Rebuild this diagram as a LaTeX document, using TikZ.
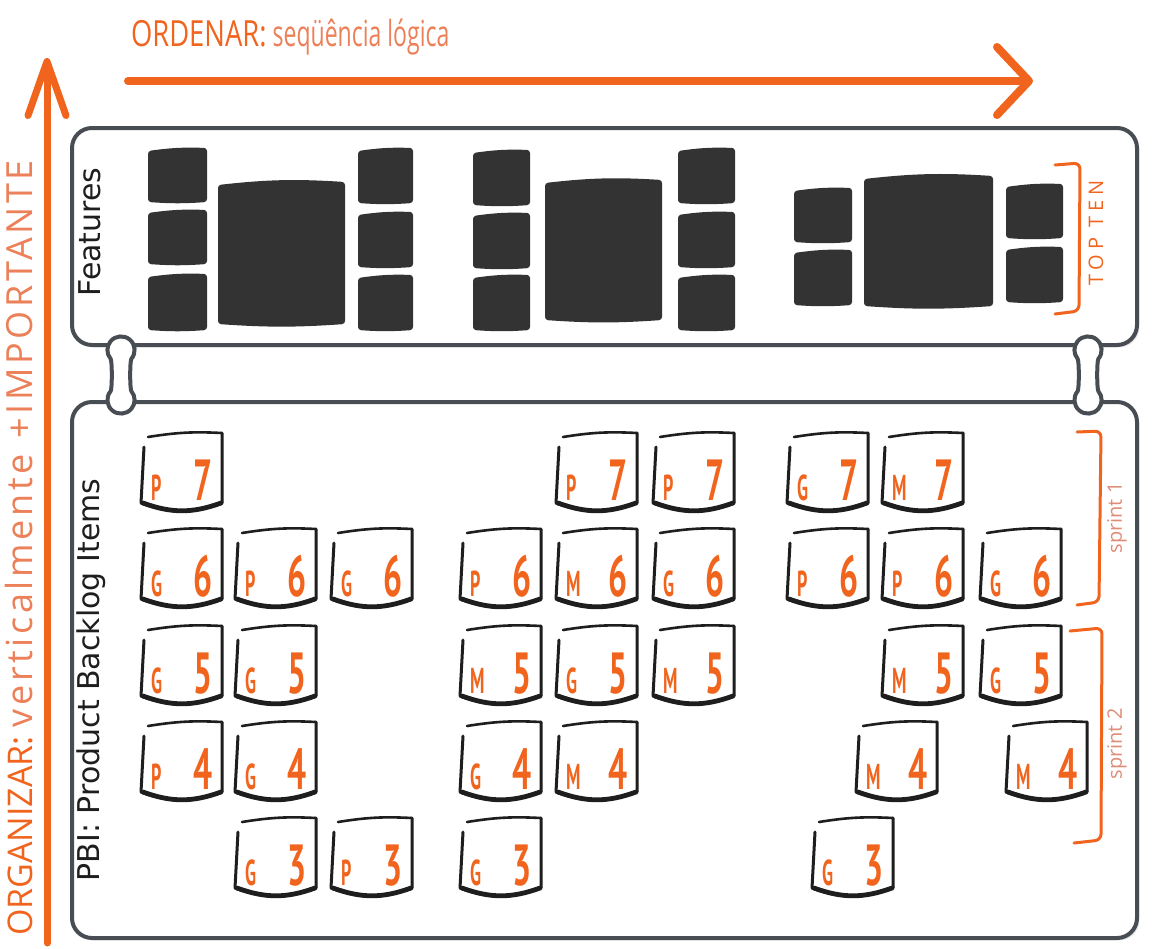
\documentclass[tikz,border=0pt]{standalone}
\usepackage{fontspec}
\setmainfont{Open Sans}
\newfontfamily\cardfont{PT Sans}
\newfontfamily\handfont{DejaVu Sans}
\usetikzlibrary{arrows.meta,shadows}

\definecolor{orng}{RGB}{240,100,30}
\definecolor{ornglt}{RGB}{236,128,88}
\definecolor{sprintpink}{RGB}{222,140,120}
\definecolor{panelgray}{RGB}{72,77,84}
\definecolor{featgray}{RGB}{51,51,51}
\definecolor{inkblack}{RGB}{30,30,30}

% letter on the left, size number on the right
\newcommand\pbitext[2]{\raisebox{-15.5pt}[0pt][0pt]{\makebox[31pt]{%
  \scalebox{0.5}[1]{\fontsize{18}{18}\selectfont #1}\hfill
  \scalebox{0.58}[1]{\fontsize{29}{29}\selectfont #2}}}}

\begin{document}
\begin{tikzpicture}[x=0.5pt,y=-0.5pt,
    panel/.style={draw=panelgray, line width=2pt, rounded corners=10pt, fill=white,
      minimum width=532.5pt, inner sep=0pt,
      drop shadow={opacity=0.18, shadow xshift=1.2pt, shadow yshift=-1.2pt}},
    featblock/.style={fill=featgray, rounded corners=1.5pt},
    pbi/.style={minimum width=40pt, minimum height=36pt, inner sep=0pt, outer sep=0pt,
      font=\cardfont\bfseries, text=orng},
    cardtop/.style={draw=inkblack, line width=1.3pt, line cap=round},
    cardedge/.style={draw=inkblack, line width=1.5pt, line cap=round, line join=round},
    cardbottom/.style={draw=inkblack, line width=2.4pt, line cap=round},
    linkline/.style={draw=panelgray, line width=2pt, fill=white},
    axis/.style={draw=orng, line cap=round},
    bracket/.style={draw=orng, line width=1.5pt, rounded corners=3pt, line cap=round},
    boxlbl/.style={font=\handfont\fontsize{15}{15}\selectfont, text=inkblack},
    sprintlbl/.style={font=\fontsize{10}{10}\selectfont, text=sprintpink}]

  \fill[white] (0,0) rectangle (1161,948);
  \useasboundingbox (0,0) rectangle (1161,948);

  % axes
  \coordinate (hstart) at (128,81);
  \coordinate (hend) at (1033,81);
  \coordinate (vstart) at (47,943);
  \coordinate (vend) at (47,58);
  \draw[axis, line width=4pt, -{Straight Barb[length=16pt,width=34pt,round]}] (hstart) -- (hend);
  \draw[axis, line width=3.5pt, -{Straight Barb[length=27pt,width=19pt,round]}] (vstart) -- (vend);

  \node[anchor=west, font=\fontsize{18}{18}\selectfont] (ordenar) at (124,37)
    {\scalebox{0.76}[1]{\textcolor{orng}{ORDENAR:}}\,\scalebox{0.64}[1]{\textcolor{ornglt}{seqüência lógica}}};
  \node[anchor=west, rotate=90, font=\fontsize{17}{17}\selectfont] (organizar) at (19,943)
    {\textcolor{orng}{ORGANIZAR:}~{\fontsize{18}{18}\selectfont\addfontfeature{LetterSpace=10}%
     \textcolor{ornglt}{verticalmente\hspace{8pt}+IMPORTANTE}}};

  % the two panels
  \node[panel, minimum height=108.5pt] (features) at (604.5,236.5) {};
  \node[panel, minimum height=268pt] (backlog) at (604.5,670) {};

  \node[boxlbl, rotate=90] (featlbl) at (90,232) {Features};
  \node[boxlbl, rotate=90] (pbilbl) at (91,680) {PBI: Product Backlog Items};

  % links between the panels
  \coordinate (lkLa) at (121,350);
  \coordinate (lkLb) at (121,400);
  \coordinate (lkRa) at (1088,350);
  \coordinate (lkRb) at (1088,400);
  \foreach \a/\b in {lkLa/lkLb, lkRa/lkRb}
    \draw[linkline] ([shift={(-40:6.8pt)}]\a) arc[start angle=-40, end angle=220, radius=6.8pt]
      to[out=310, in=50, looseness=0.2] ([shift={(140:6.8pt)}]\b)
      arc[start angle=140, end angle=400, radius=6.8pt]
      to[out=130, in=230, looseness=0.2] ([shift={(-40:6.8pt)}]\a) -- cycle;

  % features
  \foreach \xa/\ya/\xb/\yb in {148/148/207/202, 148/210/207/264, 148/274/207/330,
      218/182/345/324, 358/148/413/203, 358/212/413/267, 358/275/413/330,
      473/150/530/205, 473/213/530/268, 473/275/530/330, 545/180/662/320,
      678/148/735/203, 678/212/735/267, 678/275/735/330,
      794/188/852/242, 794/250/852/305, 864/176/993/306,
      1006/184/1063/238, 1006/247/1063/302}
    \fill[featblock] (\xa,\ya+3) to[bend left=5] (\xb,\ya) -- (\xb,\yb) to[bend left=4] (\xa,\yb) -- cycle;

  \draw[bracket] (1055,165) -- (1080,163) -- (1079,311) -- (1055,314);
  \node[rotate=90, text=orng, font=\fontsize{10}{10}\selectfont\addfontfeature{LetterSpace=25}] (topten) at (1096,233) {TOP TEN};

  % product backlog items
  \foreach \n/\x/\y/\l/\v in {
      c1r7/182/469/P/7, c5r7/597/469/P/7, c6r7/694/469/P/7, c7r7/828/469/G/7, c8r7/923/469/M/7,
      c1r6/182/565/G/6, c2r6/276/565/P/6, c3r6/372/565/G/6, c4r6/501/565/P/6, c5r6/597/565/M/6,
      c6r6/694/565/G/6, c7r6/828/565/P/6, c8r6/923/565/P/6, c9r6/1021/565/G/6,
      c1r5/182/662/G/5, c2r5/276/662/G/5, c4r5/501/662/M/5, c5r5/597/662/G/5, c6r5/694/662/M/5,
      c8r5/923/662/M/5, c9r5/1021/662/G/5,
      c1r4/182/758/P/4, c2r4/276/758/G/4, c4r4/501/758/G/4, c5r4/597/758/M/4,
      c8r4/897/758/M/4, c9r4/1047/758/M/4,
      c2r3/276/854/G/3, c3r3/372/854/P/3, c4r3/501/854/G/3, c7r3/853/854/G/3}
  {
    \node[pbi] (\n) at (\x,\y) {\pbitext{\l}{\v}};
    \draw[cardtop] ([xshift=3pt,yshift=-2pt]\n.north west) to[bend left=6] (\n.north east);
    \draw[cardedge] ([xshift=1pt,yshift=-7pt]\n.north west) -- ([xshift=-0.5pt,yshift=1pt]\n.south west)
      to[bend right=20] ([yshift=1pt]\n.south east) -- (\n.north east);
    \draw[cardbottom] ([xshift=0.5pt,yshift=1pt]\n.south west) to[bend right=20] ([xshift=-0.5pt,yshift=1pt]\n.south east);
  }

  % sprints
  \draw[bracket] (1077,432) -- (1101,431) -- (1099,602) -- (1077,605);
  \draw[bracket] (1070,631) -- (1102,628) -- (1101,840) -- (1074,843);
  \node[sprintlbl, rotate=90] (sprint1) at (1117,518) {sprint 1};
  \node[sprintlbl, rotate=90] (sprint2) at (1117,744) {sprint 2};
\end{tikzpicture}
\end{document}
